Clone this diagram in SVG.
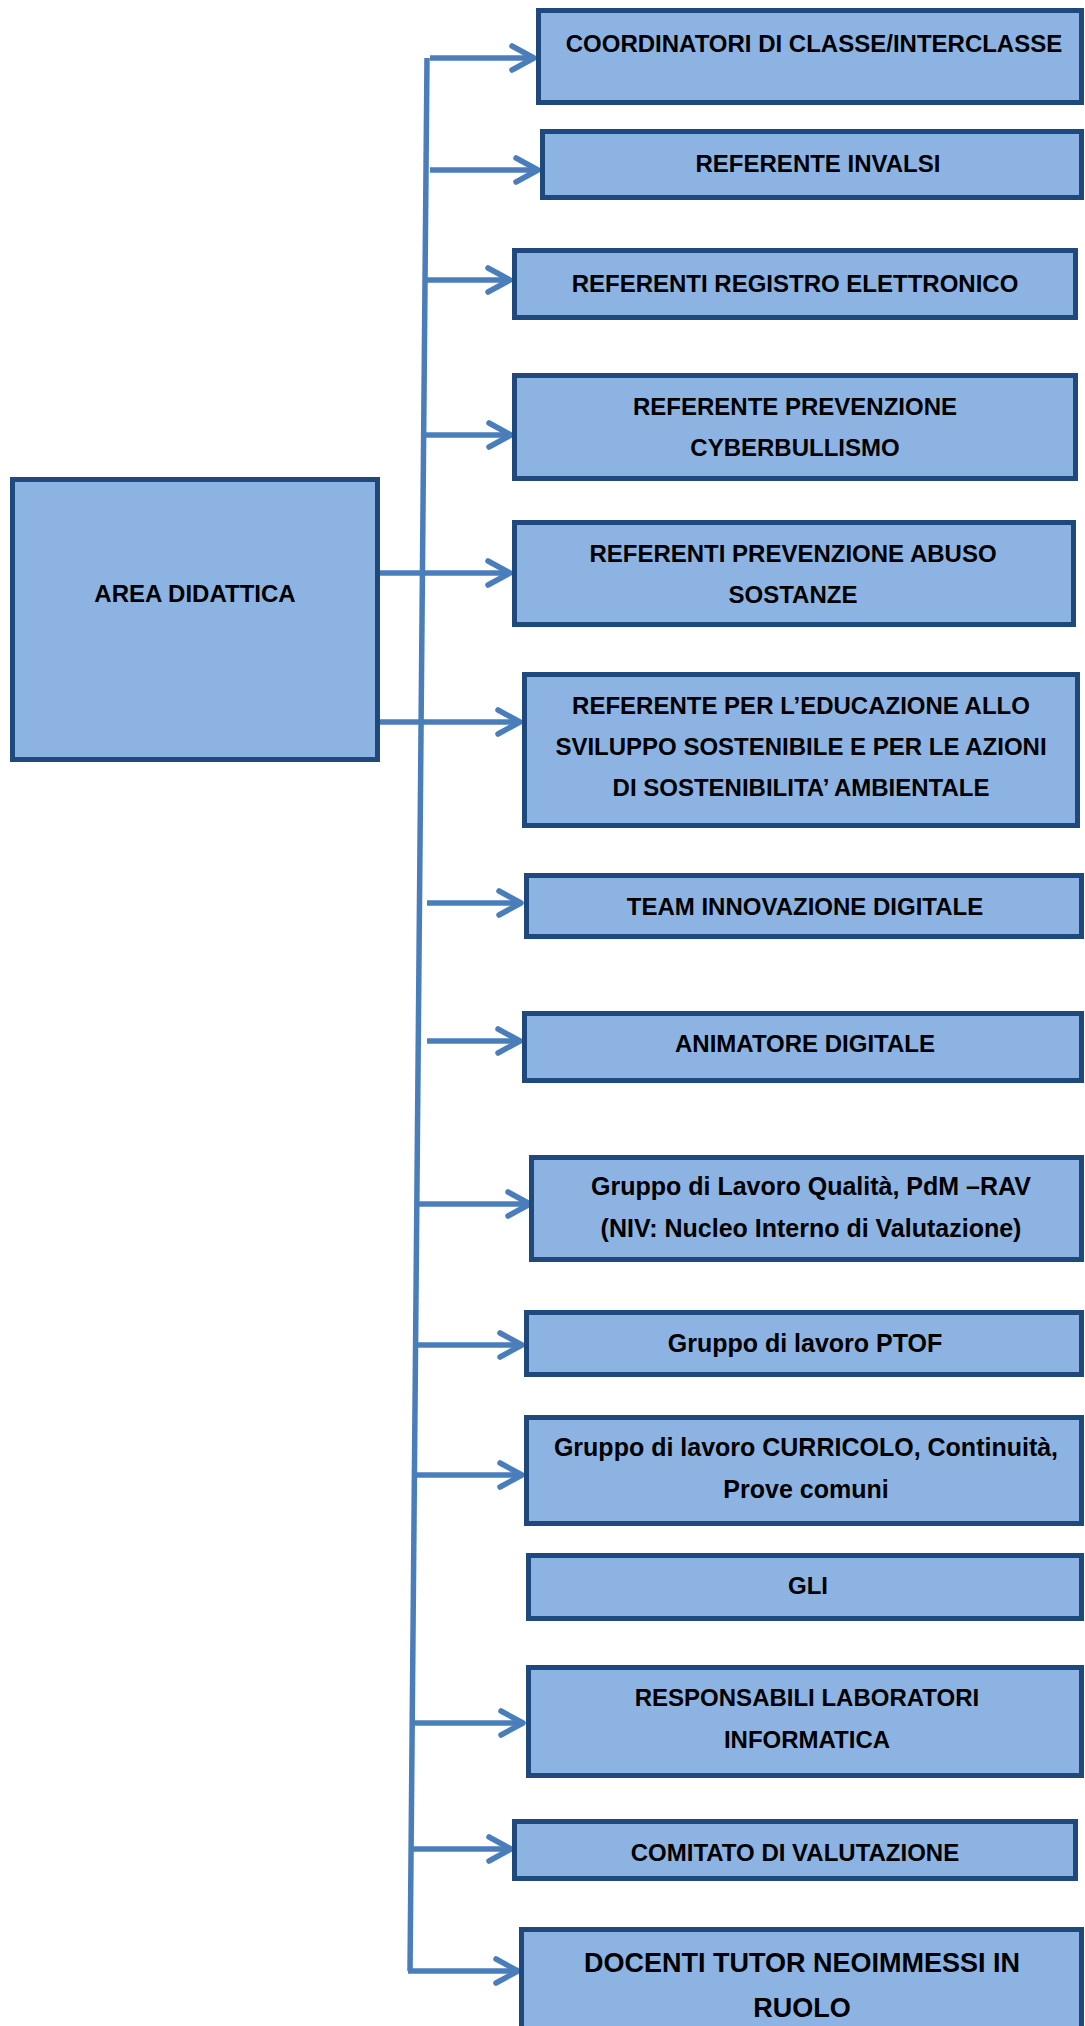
<svg xmlns="http://www.w3.org/2000/svg" width="1085" height="2026" viewBox="0 0 1085 2026">
<style>
.box{fill:#8db3e2;stroke:#1f497d;stroke-width:5}
.t{font-family:"Liberation Sans",Arial,sans-serif;font-weight:bold;font-size:24px;fill:#000;text-anchor:middle}
.m{font-size:25px}
.big{font-size:27px}
.c{fill:none;stroke:#4a7ebb;stroke-width:5.5}
.a{fill:none;stroke:#4a7ebb;stroke-width:5.5;marker-end:url(#ah)}
</style>
<defs>
<marker id="ah" markerUnits="userSpaceOnUse" viewBox="-30 -20 40 40" refX="0" refY="0" markerWidth="40" markerHeight="40" orient="auto" overflow="visible">
<path d="M-22,-12 L0,0 L-22,12" fill="none" stroke="#4a7ebb" stroke-width="5.5" stroke-linecap="round" stroke-linejoin="round"/>
</marker>
</defs>
<rect width="1085" height="2026" fill="#fff"/>
<g id="connectors">
<path class="c" d="M427,58 L410,1971"/>
<path class="a" d="M430,58 H534"/>
<path class="a" d="M430,170 H538"/>
<path class="a" d="M425,280 H510"/>
<path class="a" d="M424,435 H511"/>
<path class="a" d="M380,573 H510"/>
<path class="a" d="M380,722 H520"/>
<path class="a" d="M427,903 H521"/>
<path class="a" d="M427,1041 H520"/>
<path class="a" d="M417,1204 H530"/>
<path class="a" d="M416,1345 H522"/>
<path class="a" d="M414,1475 H522"/>
<path class="a" d="M412,1723 H523"/>
<path class="a" d="M411,1849 H511"/>
<path class="a" d="M408,1971 H518"/>
</g>
<g id="area-didattica">
<rect class="box" x="12.5" y="479.5" width="365" height="280"/>
<text class="t" x="195" y="602">AREA DIDATTICA</text>
</g>
<g id="coordinatori">
<rect class="box" x="538.5" y="10.5" width="543" height="92"/>
<text class="t" x="814" y="52">COORDINATORI DI CLASSE/INTERCLASSE</text>
</g>
<g id="invalsi">
<rect class="box" x="542.5" y="131.5" width="539" height="66"/>
<text class="t" x="818" y="172">REFERENTE INVALSI</text>
</g>
<g id="registro">
<rect class="box" x="514.5" y="250.5" width="561" height="67"/>
<text class="t" x="795" y="292">REFERENTI REGISTRO ELETTRONICO</text>
</g>
<g id="cyberbullismo">
<rect class="box" x="514.5" y="375.5" width="561" height="103"/>
<text class="t" x="795" y="415">REFERENTE PREVENZIONE</text>
<text class="t" x="795" y="456">CYBERBULLISMO</text>
</g>
<g id="abuso">
<rect class="box" x="514.5" y="522.5" width="559" height="102"/>
<text class="t" x="793" y="562">REFERENTI PREVENZIONE ABUSO</text>
<text class="t" x="793" y="603">SOSTANZE</text>
</g>
<g id="sostenibile">
<rect class="box" x="524.5" y="674.5" width="553" height="151"/>
<text class="t" x="801" y="714">REFERENTE PER L’EDUCAZIONE ALLO</text>
<text class="t" x="801" y="755">SVILUPPO SOSTENIBILE E PER LE AZIONI</text>
<text class="t" x="801" y="796">DI SOSTENIBILITA’ AMBIENTALE</text>
</g>
<g id="team">
<rect class="box" x="526.5" y="875.5" width="555" height="61"/>
<text class="t" x="805" y="915">TEAM INNOVAZIONE DIGITALE</text>
</g>
<g id="animatore">
<rect class="box" x="524.5" y="1013.5" width="557" height="67"/>
<text class="t" x="805" y="1052">ANIMATORE DIGITALE</text>
</g>
<g id="niv">
<rect class="box" x="531.5" y="1157.5" width="550" height="102"/>
<text class="t m" x="811" y="1195">Gruppo di Lavoro Qualità, PdM –RAV</text>
<text class="t m" x="811" y="1237">(NIV: Nucleo Interno di Valutazione)</text>
</g>
<g id="ptof">
<rect class="box" x="526.5" y="1312.5" width="555" height="62"/>
<text class="t m" x="805" y="1352">Gruppo di lavoro PTOF</text>
</g>
<g id="curricolo">
<rect class="box" x="526.5" y="1417.5" width="555" height="106"/>
<text class="t m" x="806" y="1456">Gruppo di lavoro CURRICOLO, Continuità,</text>
<text class="t m" x="806" y="1498">Prove comuni</text>
</g>
<g id="gli">
<rect class="box" x="528.5" y="1555.5" width="553" height="63"/>
<text class="t" x="808" y="1594">GLI</text>
</g>
<g id="laboratori">
<rect class="box" x="528.5" y="1667.5" width="553" height="108"/>
<text class="t" x="807" y="1706">RESPONSABILI LABORATORI</text>
<text class="t" x="807" y="1748">INFORMATICA</text>
</g>
<g id="comitato">
<rect class="box" x="514.5" y="1821.5" width="561" height="57"/>
<text class="t" x="795" y="1861">COMITATO DI VALUTAZIONE</text>
</g>
<g id="tutor">
<rect class="box" x="521.5" y="1929.5" width="560" height="110"/>
<text class="t big" x="802" y="1972">DOCENTI TUTOR NEOIMMESSI IN</text>
<text class="t big" x="802" y="2017">RUOLO</text>
</g>
</svg>
